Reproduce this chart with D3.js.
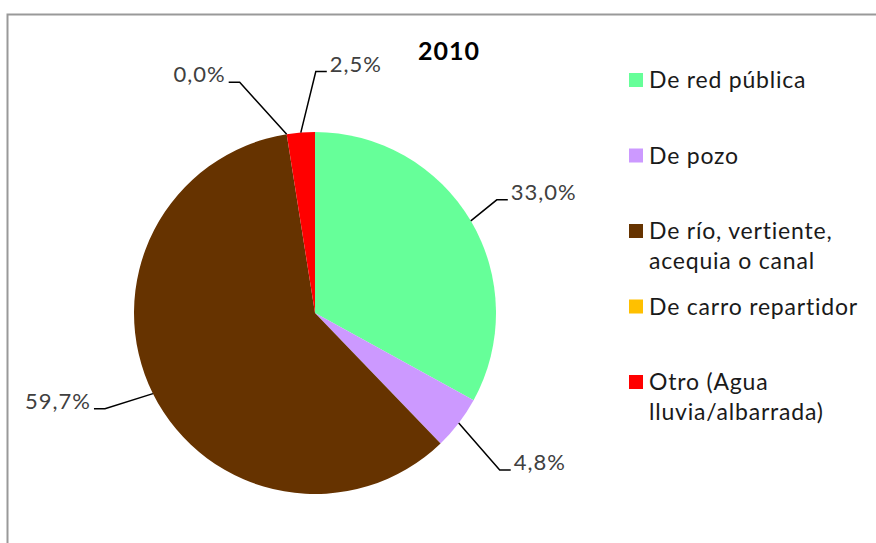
<!DOCTYPE html>
<html>
<head>
<meta charset="utf-8">
<script src="https://cdn.jsdelivr.net/npm/d3@7"></script>
<style>
  body { margin: 0; background: #fff; }
  svg text { font-family: Lato, "Open Sans", sans-serif; }
</style>
</head>
<body>
<svg width="876" height="543"></svg>
<script>
(function() {
  // chart data
  var categories = ["De red pública", "De pozo", "De río, vertiente, acequia o canal", "De carro repartidor", "Otro (Agua lluvia/albarrada)"];
  var values = [33.0, 4.8, 59.7, 0.0, 2.5];
  var colors = ["#66ff99", "#cc99ff", "#663300", "#ffc000", "#ff0000"];
  var legendLines = [["De red pública"], ["De pozo"], ["De río, vertiente,", "acequia o canal"], ["De carro repartidor"], ["Otro (Agua", "lluvia/albarrada)"]];
  var title = "2010";

  var svg = d3.select("svg"),
    cx = 315, cy = 313, r = 181;

  // frame
  svg.append("path")
      .attr("d", "M7.5,543V14.5H876")
      .attr("fill", "none")
      .attr("stroke", "#999")
      .attr("stroke-width", 2);

  var pie = d3.pie().sort(null).value(function(d) { return d; });
  var arcs = pie(values);
  var arc = d3.arc().innerRadius(0).outerRadius(r);

  var g = svg.append("g").attr("transform", "translate(" + cx + "," + cy + ")");

  g.selectAll("path.slice")
    .data(arcs)
    .enter().append("path")
      .attr("class", "slice")
      .attr("d", arc)
      .attr("fill", function(d, i) { return colors[i]; });

  // label elbows, relative to the edge point of each slice
  var elbow = [[26, -21], [41, 47], [-48, 15], [-47, -52], [15, -61]];
  var tail = 11;
  var fmt = function(v) { return v.toFixed(1).replace(".", ",") + "%"; };

  arcs.forEach(function(d, i) {
    var a = (d.startAngle + d.endAngle) / 2;
    var x0 = Math.sin(a) * r, y0 = -Math.cos(a) * r;
    var x1 = x0 + elbow[i][0], y1 = y0 + elbow[i][1];
    var right = elbow[i][0] > 0;
    var x2 = x1 + (right ? tail : -tail);
    g.append("path")
        .attr("d", d3.line()([[x0, y0], [x1, y1], [x2, y1]]))
        .attr("fill", "none")
        .attr("stroke", "#000")
        .attr("stroke-width", 1.5);
    g.append("text")
        .attr("x", x2 + (right ? 3 : -3))
        .attr("y", y1)
        .attr("text-anchor", right ? "start" : "end")
        .attr("font-size", 22)
        .attr("letter-spacing", 1)
        .attr("fill", "#404040")
        .text(fmt(values[i]));
  });

  svg.append("text")
      .attr("x", 449)
      .attr("y", 60)
      .attr("text-anchor", "middle")
      .attr("font-size", 25)
      .attr("letter-spacing", 1)
      .attr("font-weight", "bold")
      .attr("fill", "#000")
      .text(title);

  // legend
  var rowY = d3.scalePoint().domain(d3.range(categories.length)).range([80, 382]);
  var lg = svg.append("g");
  categories.forEach(function(c, i) {
    var y = rowY(i);
    lg.append("rect")
        .attr("x", 629).attr("y", y - 7)
        .attr("width", 14).attr("height", 14)
        .attr("fill", colors[i]);
    legendLines[i].forEach(function(t, j) {
      lg.append("text")
          .attr("x", 649)
          .attr("y", y + 8 + j * 30)
          .attr("font-size", 23)
          .attr("letter-spacing", 0.8)
          .attr("fill", "#1a1a1a")
          .text(t);
    });
  });
})();
</script>
</body>
</html>
